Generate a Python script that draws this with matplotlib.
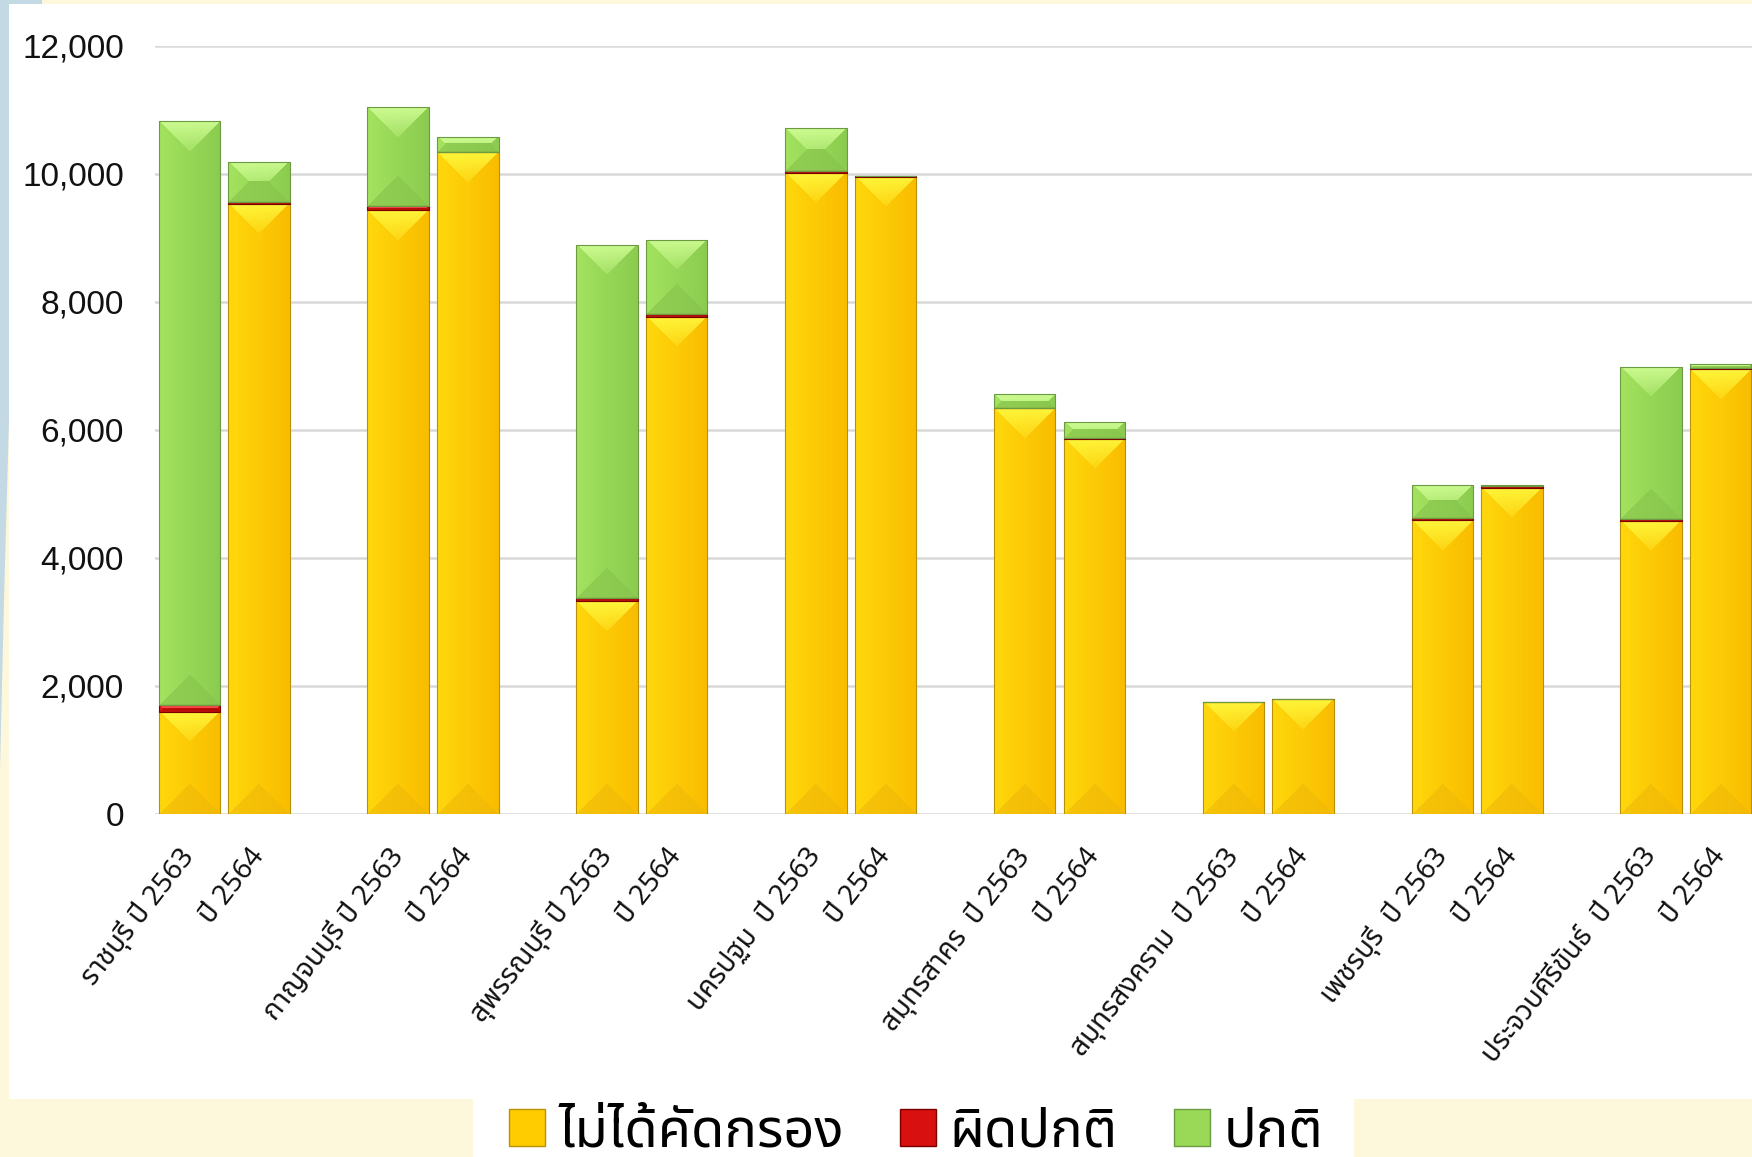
import numpy as np
import matplotlib
matplotlib.use("Agg")
import matplotlib.pyplot as plt
from matplotlib import font_manager as fm
from matplotlib.ft2font import FT2Font
from matplotlib.patches import Rectangle, Polygon, Patch

# ---------------- data ----------------
provinces = ["ราชบุรี", "กาญจนบุรี", "สุพรรณบุรี", "นครปฐม",
             "สมุทรสาคร", "สมุทรสงคราม", "เพชรบุรี", "ประจวบคีรีขันธ์"]
year_labels_a = ["ราชบุรี ปี 2563", "กาญจนบุรี ปี 2563", "สุพรรณบุรี ปี 2563",
                 "นครปฐม  ปี 2563", "สมุทรสาคร  ปี 2563", "สมุทรสงคราม  ปี 2563",
                 "เพชรบุรี  ปี 2563", "ประจวบคีรีขันธ์  ปี 2563"]
year_label_b = "ปี 2564"
series_names = ["ไม่ได้คัดกรอง", "ผิดปกติ", "ปกติ"]

not_screened = [1600, 9530, 9430, 10330, 3320, 7765, 10015, 9950,
                6335, 5860, 1750, 1795, 4590, 5095, 4580, 6945]
abnormal = [105, 20, 60, 10, 50, 35, 25, 5,
            10, 10, 3, 3, 30, 25, 25, 25]
normal = [9115, 625, 1545, 235, 5520, 1170, 670, 15,
          215, 255, 2, 2, 520, 20, 2380, 60]
yticks = [0, 2000, 4000, 6000, 8000, 10000, 12000]

# ---------------- fonts ----------------
def find_thai():
    cands = []
    for f in fm.fontManager.ttflist:
        try:
            ft = FT2Font(f.fname)
            cm = ft.get_charmap()
            if 0x0E01 in cm and 0x0E48 in cm and 0x0E1B in cm:
                cands.append(f.name)
        except Exception:
            pass
    pref = ["Noto Sans Thai", "Noto Sans Thai UI", "Loma", "Tlwg Typo", "Garuda",
            "Sarabun", "Kinnari", "Norasi", "Umpush", "Waree", "Laksaman"]
    for p in pref:
        if p in cands:
            return p
    return cands[0] if cands else None

thai = find_thai()
thai_family = ([thai] if thai else []) + ["DejaVu Sans"]
plt.rcParams["font.family"] = thai_family

W, H = 1752, 1157
fig = plt.figure(figsize=(W / 100, H / 100), dpi=100)
fig.patch.set_facecolor("#FDF7DB")

def px_rect(x0, y0, x1, y1, color, z=0):
    r = Rectangle((x0 / W, 1 - y1 / H), (x1 - x0) / W, (y1 - y0) / H,
                  transform=fig.transFigure, facecolor=color, edgecolor="none", zorder=z)
    fig.add_artist(r)

# white chart area and legend box
px_rect(9, 4, W, 1099, "white")
px_rect(473, 1099, 1354, H, "white")
# blue decorative stripe on the left
blue_pts = [(0, 0), (42, 0), (42, 4), (9, 4), (9, 420), (4, 600), (0, 770)]
fig.add_artist(Polygon([(x / W, 1 - y / H) for x, y in blue_pts], closed=True,
                       transform=fig.transFigure, facecolor="#C3D9E3",
                       edgecolor="none", zorder=0))

ax = fig.add_axes([154.6 / W, (H - 814) / H, (W - 154.6) / W, (814 - 45.5) / H])
ax.set_facecolor("none")
ax.set_zorder(2)

n = len(not_screened)
pos = np.array([(i // 2) * 3 + (i % 2) for i in range(n)], dtype=float)
bw = 0.883

colors = {
    "y": dict(face="#FFCC00", top="#FFF53A", left="#FFD80C", right="#F9BC00",
              bottom="#F0B808", edge="#B8900A"),
    "r": dict(face="#D81010", top="#FF4A4A", left="#E51A1A", right="#C40A0A",
              bottom="#A80808", edge="#7A0000"),
    "g": dict(face="#99D957", top="#CCFB90", left="#A3E35F", right="#8BCB4F",
              bottom="#86C24C", edge="#6B9A42"),
}

def hex2rgb(h):
    h = h.lstrip("#")
    return np.array([int(h[i:i + 2], 16) / 255 for i in (0, 2, 4)])

slot_px = (W - 154.6) / (22.45 + 0.5)
unit_px = (814 - 45.5) / 12000.0

def bevel_image(wpx, hpx, c):
    wpx = max(int(round(wpx)), 2)
    hpx = max(int(round(hpx)), 2)
    X, Y = np.meshgrid(np.arange(wpx) + 0.5, np.arange(hpx) + 0.5)
    t = (X / wpx)[..., None]
    L, R = hex2rgb(c["left"]), hex2rgb(c["right"])
    img = L * (1 - t) + R * t
    dl, dr, dt, db = X, wpx - X, Y, hpx - Y
    side = np.minimum(dl, dr)
    half = wpx / 2.0
    top_mask = (dt < side) & (dt < db)
    bot_mask = (db < side) & (db <= dt)
    topc = hex2rgb(c["top"])
    s = np.clip(dt / half, 0, 1)[..., None]
    top_img = topc * (1 - s * 0.75) + img * (s * 0.75)
    img = np.where(top_mask[..., None], top_img, img)
    botc = hex2rgb(c["bottom"])
    img = np.where(bot_mask[..., None], botc * 0.6 + img * 0.4, img)
    return np.clip(img, 0, 1)

def draw(vals, bottom, key, label):
    c = colors[key]
    bars = ax.bar(pos, vals, bw, bottom=bottom, color=c["face"], edgecolor=c["edge"],
                  linewidth=0.8, label=label, zorder=3)
    for p in bars.patches:
        x0, y0 = p.get_xy()
        w, h = p.get_width(), p.get_height()
        if h <= 0:
            continue
        img = bevel_image(w * slot_px, h * unit_px, c)
        im = ax.imshow(img, extent=(x0, x0 + w, y0, y0 + h), aspect="auto",
                       origin="upper", interpolation="nearest", zorder=3)
        im.set_clip_path(p)
        p.set_facecolor("none")
        p.set_zorder(4)
    return bars

b1 = np.array(not_screened, dtype=float)
b2 = b1 + np.array(abnormal, dtype=float)
draw(not_screened, 0, "y", series_names[0])
draw(abnormal, b1, "r", series_names[1])
draw(normal, b2, "g", series_names[2])

ax.set_xlim(-0.5, 22.45)
ax.set_ylim(0, 12000)
ax.set_yticks(yticks)
ax.set_yticklabels([f"{v:,}" for v in yticks], family=["Liberation Sans", "DejaVu Sans"],
                   fontsize=24, color="#111111")
ax.yaxis.grid(True, color="#D9D9D9", linewidth=1.8)
ax.set_axisbelow(True)
for s in ax.spines.values():
    s.set_visible(False)
ax.tick_params(axis="y", length=0, pad=22)
ax.tick_params(axis="x", length=0, pad=27)

xlabels = []
for lab in year_labels_a:
    xlabels += [lab, year_label_b]
ax.set_xticks(pos)
ax.set_xticklabels(xlabels, fontsize=20, rotation=52, ha="right", va="center",
                   rotation_mode="anchor", family=thai_family, color="#111111")

handles = [Patch(facecolor=colors[k]["face"], edgecolor=colors[k]["edge"], linewidth=1)
           for k in ("y", "r", "g")]
fig.legend(handles, series_names, loc="center", bbox_to_anchor=(916 / W, (H - 1132) / H),
           ncol=3, frameon=False, prop={"family": thai_family, "size": 39},
           handlelength=0.66, handleheight=0.66, handletextpad=0.25, columnspacing=1.04,
           borderpad=0)

fig.savefig("out.png", dpi=100, facecolor=fig.get_facecolor())
